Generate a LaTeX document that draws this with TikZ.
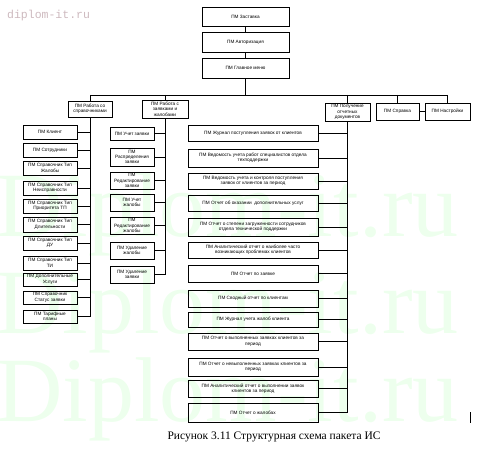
\documentclass[tikz,border=0pt]{standalone}
\usepackage{fontspec}
\setmainfont{Liberation Sans}
\newfontfamily\capfont{Liberation Serif}
\newfontfamily\wmfont{Liberation Mono}
\begin{document}
\begin{tikzpicture}[x=1pt,y=1pt,
  box/.style={draw, line width=0.6pt, inner sep=0pt, align=center,
    font=\fontsize{4.7}{5.4}\selectfont},
  conn/.style={line width=0.9pt},
  wm/.style={text=green!7, font=\capfont\fontsize{92}{92}\selectfont, anchor=base west, inner sep=0pt}
]
\useasboundingbox (0,0) rectangle (480,-460);
% faint background watermark
\node[wm] (wm1) at (-4,-236) {Diplom-it.ru};
\node[wm] (wm2) at (-4,-333) {Diplom-it.ru};
\node[wm] (wm3) at (-4,-421) {Diplom-it.ru};
\node[anchor=west, inner sep=0pt, text={rgb,255:red,205;green,185;blue,190},
  font=\wmfont\fontsize{11.5}{12}\selectfont] (wmsmall) at (7,-16) {diplom-it.ru};

% top chain
\node[box, minimum width=87, minimum height=19] (t1) at (245.5,-16.5) {ПМ Заставка};
\node[box, minimum width=87, minimum height=20] (t2) at (245.5,-42) {ПМ Авторизация};
\node[box, minimum width=87, minimum height=20] (t3) at (245.5,-68) {ПМ Главное меню};
\draw[conn] (t1.south) -- (t2.north);
\draw[conn] (t2.south) -- (t3.north);

% level 2
\node[box, minimum width=44, minimum height=16] (p1) at (90,-109) {ПМ Работа со\\справочниками};
\node[box, minimum width=46, minimum height=18] (p2) at (165,-109) {ПМ Работа с\\заявками и\\жалобами};
\node[box, minimum width=45, minimum height=18] (p3) at (347.5,-112) {ПМ Получение\\отчетных\\документов};
\node[box, minimum width=43, minimum height=17] (p4) at (397.5,-111.5) {ПМ Справка};
\node[box, minimum width=45, minimum height=17] (p5) at (447.5,-111.5) {ПМ Настройки};

\coordinate (bus) at (0,-95);
\draw[conn] (t3.south) -- (t3.south |- bus);
\draw[conn] (p1.north |- bus) -- (p5.north |- bus);
\foreach \p in {p1,p2,p3,p4,p5} \draw[conn] (\p.north |- bus) -- (\p.north);
\draw[conn] (p4.east) -- (p5.west);

% left column
\foreach \n/\y/\h/\t in {
  c1/132/14/{ПМ Клиент},
  c2/150/14/{ПМ Сотрудники},
  c3/168/14/{ПМ Справочник Тип\\Жалобы},
  c4/188/14/{ПМ Справочник Тип\\Неисправности},
  c5/206/14/{ПМ Справочник Тип\\Приоритета ТП},
  c6/224.5/15/{ПМ Справочник Тип\\Длительности},
  c7/243/14/{ПМ Справочник Тип\\ДУ},
  c8/263/14/{ПМ Справочник Тип\\ТИ},
  c9/279.5/13/{ПМ Дополнительные\\Услуги},
  c10/297.5/13/{ПМ Справочник\\Статус заявки},
  c11/316.5/13/{ПМ Тарифные\\планы}}
{
  \node[box, minimum width=54, minimum height=\h] (\n) at (50,-\y) {\t};
  \draw[conn] (\n.east) -- (\n.east -| p1.south);
}
\draw[conn] (p1.south) -- (p1.south |- c11.east);

% middle-left column
\foreach \n/\y/\h/\t in {
  m1/133.5/13/{ПМ Учет заявки},
  m2/157/18/{ПМ\\Распределения\\заявки},
  m3/180.5/17/{ПМ\\Редактирование\\заявки},
  m4/202.5/17/{ПМ Учет\\жалобы},
  m5/225.5/17/{ПМ\\Редактирование\\жалобы},
  m6/250.5/17/{ПМ Удаление\\жалобы},
  m7/274.5/17/{ПМ Удаление\\заявки}}
{
  \node[box, minimum width=44, minimum height=\h] (\n) at (132,-\y) {\t};
  \draw[conn] (\n.east) -- (\n.east -| p2.south);
}
\draw[conn] (p2.south) -- (p2.south |- m7.east);

% reports column
\foreach \n/\y/\h/\t in {
  r1/133/16/{ПМ Журнал поступления заявок от клиентов},
  r2/158/18/{ПМ Ведомость учета работ специалистов отдела\\техподдержки},
  r3/181/16/{ПМ Ведомость учета и контроля поступления\\заявок от клиентов за период},
  r4/203/16/{ПМ Отчет об оказании\ \ дополнительных услуг},
  r5/227/18/{ПМ Отчет о степени загруженности сотрудников\\отдела технической поддержки},
  r6/250/16/{ПМ Аналитический отчет о наиболее часто\\возникающих проблемах клиентов},
  r7/273.5/17/{ПМ Отчет по заявке},
  r8/298.5/17/{ПМ Сводный отчет по клиентам},
  r9/319.5/15/{ПМ Журнал учета жалоб клиента},
  r10/341.5/17/{ПМ Отчет о выполненных заявках клиентов за\\период},
  r11/367/18/{ПМ Отчет о невыполненных заявках клиентов за\\период},
  r12/388.5/17/{ПМ Аналитический отчет о выполнении заявок\\клиентов за период},
  r13/412.5/19/{ПМ Отчет о жалобах}}
{
  \node[box, minimum width=130, minimum height=\h] (\n) at (253,-\y) {\t};
  \draw[conn] (\n.east) -- (\n.east -| p3.south);
}
\draw[conn] (p3.south) -- (p3.south |- r13.east);

% small mark at bottom right
\draw[line width=0.8pt] (470,-412) -- (470,-423);

% caption
\node[font=\capfont\fontsize{11.5}{13}\selectfont, inner sep=0pt] (cap) at (274,-437) {Рисунок 3.11 Структурная схема пакета ИС};
\end{tikzpicture}
\end{document}
